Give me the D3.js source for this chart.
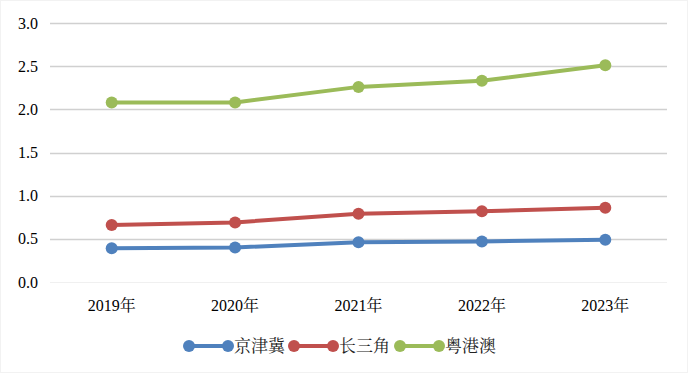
<!DOCTYPE html>
<html>
<head>
<meta charset="utf-8">
<script src="https://cdn.jsdelivr.net/npm/d3@7"></script>
</head>
<body style="margin:0">
<script>
const W = 690, H = 376;
const MARGIN = {LEFT: 50, RIGHT: 23, TOP: 23, DOWN: 94};
const fam = name => `"${name}"`;
const LATIN = fam(["Liberation", "Serif"].join(" "));
const CJK = fam(["Noto", "Serif", "CJK", "SC"].join(" "));

const years = ["2019年", "2020年", "2021年", "2022年", "2023年"];
const yTicks = [0, 0.5, 1.0, 1.5, 2.0, 2.5, 3.0];
const seriesNames = ["京津冀", "长三角", "粤港澳"];
const jjj = [0.39, 0.40, 0.46, 0.47, 0.49];
const csj = [0.66, 0.69, 0.79, 0.82, 0.86];
const ygy = [2.08, 2.08, 2.26, 2.33, 2.51];
const colors = ["#4F81BD", "#C0504D", "#9BBB59"];

const series = [jjj, csj, ygy].map((vals, i) => ({name: seriesNames[i], values: vals, color: colors[i]}));

const svg = d3.select("body").append("svg")
    .attr("width", W)
    .attr("height", H);

svg.append("rect")
    .attr("x", 0.5).attr("y", 0.5)
    .attr("width", W - 3).attr("height", H - 4)
    .attr("fill", "#fff")
    .attr("stroke", "#f2f2f2");

const x = d3.scaleBand().domain(years).range([MARGIN.LEFT, W - MARGIN.RIGHT]);
const y = d3.scaleLinear().domain([0, 3]).range([H - MARGIN.DOWN, MARGIN.TOP]);

// gridlines
svg.append("g")
    .selectAll("line")
    .data(yTicks.filter(d => d > 0))
    .enter()
    .append("line")
    .attr("x1", MARGIN.LEFT)
    .attr("x2", W - MARGIN.RIGHT)
    .attr("y1", d => Math.round(y(d)) + 0.5)
    .attr("y2", d => Math.round(y(d)) + 0.5)
    .attr("stroke", "#d0d0d0")
    .attr("stroke-width", 1.5);

// x axis baseline (very faint)
svg.append("line")
    .attr("x1", MARGIN.LEFT).attr("x2", W - MARGIN.RIGHT)
    .attr("y1", Math.round(y(0)) + 0.5).attr("y2", Math.round(y(0)) + 0.5)
    .attr("stroke", "#f0f0f0");

// y labels
svg.append("g")
    .selectAll("text")
    .data(yTicks)
    .enter()
    .append("text")
    .attr("x", 38)
    .attr("y", d => y(d) + 5.5)
    .attr("text-anchor", "end")
    .attr("font-size", 16)
    .style("font-family", LATIN)
    .text(d => d.toFixed(1));

// x labels: digits in serif latin, 年 in serif CJK
const xl = svg.append("g")
    .selectAll("text")
    .data(years)
    .enter()
    .append("text")
    .attr("x", d => x(d) + x.bandwidth() / 2)
    .attr("y", 310.5)
    .attr("text-anchor", "middle")
    .attr("font-size", 16)
    .style("font-family", LATIN);
xl.append("tspan").text(d => d.slice(0, 4));
xl.append("tspan").style("font-family", CJK).text(d => d.slice(4));

// lines
const line = d3.line()
    .x((d, i) => x(years[i]) + x.bandwidth() / 2)
    .y(d => y(d));

series.forEach(s => {
    const g = svg.append("g");
    g.append("path")
        .datum(s.values)
        .attr("d", line)
        .attr("fill", "none")
        .attr("stroke", s.color)
        .attr("stroke-width", 4)
        .attr("stroke-linejoin", "round");
    g.selectAll("circle")
        .data(s.values)
        .enter()
        .append("circle")
        .attr("cx", (d, i) => x(years[i]) + x.bandwidth() / 2)
        .attr("cy", d => y(d))
        .attr("r", 6)
        .attr("fill", s.color);
});

// legend
const legendX = [189, 294, 400];
const legendY = 346;
const legend = svg.append("g");
series.forEach((s, i) => {
    const lx = legendX[i];
    legend.append("line")
        .attr("x1", lx).attr("x2", lx + 39)
        .attr("y1", legendY).attr("y2", legendY)
        .attr("stroke", s.color)
        .attr("stroke-width", 4);
    legend.append("circle").attr("cx", lx).attr("cy", legendY).attr("r", 6).attr("fill", s.color);
    legend.append("circle").attr("cx", lx + 39).attr("cy", legendY).attr("r", 6).attr("fill", s.color);
    legend.append("text")
        .attr("x", lx + 45)
        .attr("y", legendY + 6)
        .attr("fill", "#222")
        .attr("font-size", 17)
        .style("font-family", CJK)
        .text(s.name);
});
</script>
</body>
</html>
